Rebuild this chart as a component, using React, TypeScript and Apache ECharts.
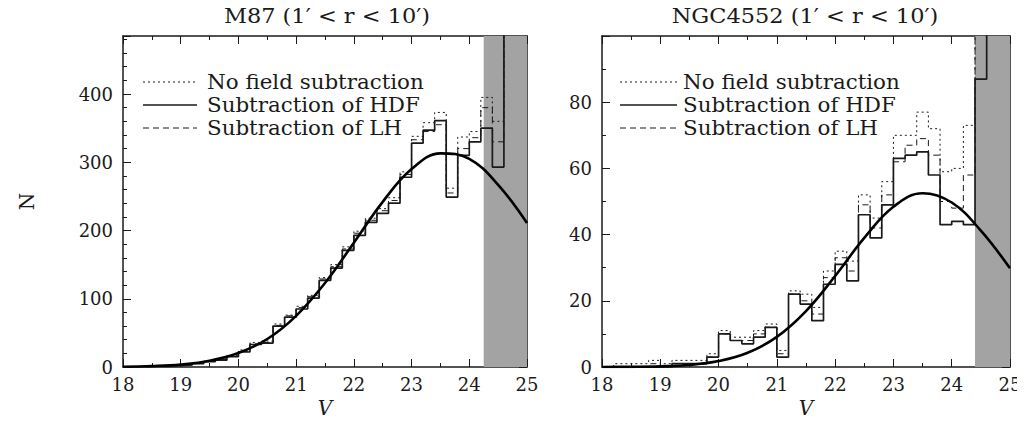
import { useEffect, useRef } from "react";
import * as echarts from "echarts";

// ---------- data ----------
const L_TITLE = "M87 (1′ < r < 10′)";
const R_TITLE = "NGC4552 (1′ < r < 10′)";
const LEGEND_LABELS = ["No field subtraction", "Subtraction of HDF", "Subtraction of LH"];

// left panel (M87): bin edges (0.2 mag bins)
const L_EDGES = [
  18.4, 18.6, 18.8, 19.0, 19.2, 19.4, 19.6, 19.8, 20.0, 20.2, 20.4, 20.6, 20.8, 21.0, 21.2, 21.4, 21.6,
  21.8, 22.0, 22.2, 22.4, 22.6, 22.8, 23.0, 23.2, 23.4, 23.6, 23.8, 24.0, 24.2, 24.4, 24.6, 24.8, 25.0,
];
const L_NOFIELD = [
  2, 2, 3, 4, 6, 9, 12, 17, 25, 36, 38, 63, 76, 89, 105, 131, 150, 176, 199, 218, 232, 248, 286, 338,
  358, 373, 262, 337, 345, 395, 360, 600, 600,
];
const L_HDF = [
  1, 1, 2, 3, 5, 8, 10, 15, 22, 33, 35, 60, 73, 85, 101, 127, 145, 171, 193, 212, 225, 240, 278, 328,
  347, 361, 249, 310, 330, 350, 293, 600, 600,
];
const L_LH = [
  1, 2, 2, 3, 5, 8, 11, 16, 23, 34, 36, 61, 75, 87, 103, 129, 147, 173, 196, 215, 229, 244, 282, 333,
  345, 355, 255, 320, 336, 380, 330, 600, 600,
];
const L_CURVE_V = [18.0, 18.5, 19.0, 19.5, 20.0, 20.5, 21.0, 21.5, 22.0, 22.5, 23.0, 23.5, 24.0, 24.5, 25.0];
const L_CURVE_N = [0.4, 1.4, 3.7, 9.2, 20.5, 41, 75, 123, 182, 242, 290, 313, 305, 267, 211];
const L_SHADE = [24.25, 25];

// right panel (NGC4552)
const R_EDGES = [
  18.2, 18.4, 18.6, 18.8, 19.0, 19.2, 19.4, 19.6, 19.8, 20.0, 20.2, 20.4, 20.6, 20.8, 21.0, 21.2, 21.4,
  21.6, 21.8, 22.0, 22.2, 22.4, 22.6, 22.8, 23.0, 23.2, 23.4, 23.6, 23.8, 24.0, 24.2, 24.4, 24.6, 24.8, 25.0,
];
const R_NOFIELD = [
  1, 1, 1, 2, 1, 2, 2, 2, 4, 11, 9, 9, 11, 13, 5, 23, 22, 18, 29, 35, 32, 52, 45, 56, 70, 70, 77, 72, 59,
  60, 73, 130, 150, 150,
];
const R_HDF = [
  0, 0, 0, 0, 0, 1, 1, 1, 3, 10, 8, 7, 9, 12, 3, 22, 19, 14, 25, 31, 26, 46, 39, 49, 63, 64, 65, 58, 43,
  44, 43, 87, 140, 140,
];
const R_LH = [
  0, 0, 0, 1, 0, 1, 1, 1, 3, 10, 8, 8, 10, 12, 4, 22, 20, 16, 27, 33, 29, 49, 42, 52, 62, 67, 69, 64, 50,
  48, 58, 110, 140, 140,
];
const R_CURVE_V = [18.0, 18.5, 19.0, 19.5, 20.0, 20.5, 21.0, 21.5, 22.0, 22.5, 23.0, 23.5, 24.0, 24.5, 25.0];
const R_CURVE_N = [0.0, 0.05, 0.2, 0.6, 1.8, 4.3, 9.1, 16.9, 27.5, 39, 48.4, 52.5, 49.7, 41.2, 29.8];
const R_SHADE = [24.4, 25];

const X_RANGE = [18, 25];
const L_Y_RANGE = [0, 485];
const R_Y_RANGE = [0, 100];

// ---------- styles ----------
const FONT = "DejaVu Serif";
const INK = "#1a1a1a";
const SHADE = "#a3a3a3";
const DOTTED = { color: INK, width: 1, type: [2, 3] as number[] };
const SOLID = { color: INK, width: 1.7, type: "solid" as const };
const DASHED = { color: INK, width: 1, type: [6, 4] as number[] };

function histo(edges: number[], vals: number[], ai: number, ls: any) {
  const data: number[][] = [[edges[0], 0]];
  vals.forEach((v, i) => data.push([edges[i], v]));
  data.push([edges[edges.length - 1], vals[vals.length - 1]]);
  return {
    type: "line",
    xAxisIndex: ai,
    yAxisIndex: ai,
    data,
    step: "end",
    symbol: "none",
    lineStyle: ls,
    silent: true,
    clip: true,
    z: 3,
  };
}

function xAxes(grid: number) {
  const base = {
    type: "value",
    gridIndex: grid,
    min: X_RANGE[0],
    max: X_RANGE[1],
    interval: 1,
    axisLine: { show: true, onZero: false, lineStyle: { color: INK, width: 1.5 } },
    axisTick: { show: true, inside: true, length: 8, lineStyle: { color: INK, width: 1 } },
    minorTick: { show: true, splitNumber: 2, length: 4, lineStyle: { color: INK, width: 1 } },
    splitLine: { show: false },
    minorSplitLine: { show: false },
  };
  return [
    {
      ...base,
      position: "bottom",
      axisLabel: { margin: 8, fontFamily: FONT, fontSize: 18, color: INK },
      name: "V",
      nameLocation: "middle",
      nameGap: 30,
      nameTextStyle: { fontFamily: FONT, fontSize: 20, fontStyle: "italic", color: INK },
    },
    { ...base, position: "top", axisLabel: { show: false } },
  ];
}

function yAxes(grid: number, range: number[], interval: number, split: number, lastLabel: number, name: string) {
  const base = {
    type: "value",
    gridIndex: grid,
    min: range[0],
    max: range[1],
    interval,
    axisLine: { show: true, onZero: false, lineStyle: { color: INK, width: 1.5 } },
    axisTick: { show: true, inside: true, length: 8, lineStyle: { color: INK, width: 1 } },
    minorTick: { show: true, splitNumber: split, length: 4, lineStyle: { color: INK, width: 1 } },
    splitLine: { show: false },
    minorSplitLine: { show: false },
  };
  return [
    {
      ...base,
      position: "left",
      axisLabel: {
        margin: 10,
        fontFamily: FONT,
        fontSize: 18,
        color: INK,
        formatter: (v: number) => (v % interval === 0 && v <= lastLabel ? String(v) : ""),
      },
      name,
      nameLocation: "middle",
      nameRotate: 90,
      nameGap: 86,
      nameTextStyle: { fontFamily: FONT, fontSize: 20, color: INK },
    },
    { ...base, position: "right", axisLabel: { show: false } },
  ];
}

function legend(x0: number, x1: number, tx: number, ys: number[]) {
  const styles = [
    { stroke: INK, lineWidth: 1, lineDash: [2, 3] },
    { stroke: INK, lineWidth: 1.7 },
    { stroke: INK, lineWidth: 1, lineDash: [6, 4] },
  ];
  const els: any[] = [];
  LEGEND_LABELS.forEach((lab, i) => {
    els.push({ type: "line", shape: { x1: x0, y1: ys[i], x2: x1, y2: ys[i] }, style: styles[i], z: 10 });
    els.push({
      type: "text",
      x: tx,
      y: ys[i],
      scaleX: 1.07,
      style: { text: lab, fontFamily: FONT, fontSize: 20, fill: INK, align: "left", verticalAlign: "middle" },
      z: 10,
    });
  });
  return els;
}

function shadeSeries(ai: number, range: number[]) {
  return {
    type: "line",
    xAxisIndex: ai,
    yAxisIndex: ai,
    data: [],
    symbol: "none",
    silent: true,
    z: 1,
    markArea: {
      silent: true,
      itemStyle: { color: SHADE, opacity: 1 },
      data: [[{ xAxis: range[0] }, { xAxis: range[1] }]],
    },
  };
}

export default function App() {
  const ref = useRef<HTMLDivElement>(null);
  useEffect(() => {
    if (!ref.current) return;
    const chart = echarts.init(ref.current, undefined, { renderer: "svg" });
    const curve = (vs: number[], ns: number[], ai: number) => ({
      type: "line",
      xAxisIndex: ai,
      yAxisIndex: ai,
      data: vs.map((v, i) => [v, ns[i]]),
      smooth: 0.4,
      symbol: "none",
      silent: true,
      lineStyle: { color: "#000", width: 2.6 },
      z: 4,
    });
    chart.setOption({
      animation: false,
      backgroundColor: "#fff",
      grid: [
        { left: 123, top: 36, width: 404, height: 331 },
        { left: 602, top: 36, width: 408, height: 331 },
      ],
      xAxis: [...xAxes(0), ...xAxes(1)],
      yAxis: [
        ...yAxes(0, L_Y_RANGE, 100, 5, 400, "N"),
        ...yAxes(1, R_Y_RANGE, 20, 2, 80, ""),
      ],
      series: [
        shadeSeries(0, L_SHADE),
        histo(L_EDGES, L_NOFIELD, 0, DOTTED),
        histo(L_EDGES, L_LH, 0, DASHED),
        histo(L_EDGES, L_HDF, 0, SOLID),
        curve(L_CURVE_V, L_CURVE_N, 0),
        shadeSeries(2, R_SHADE),
        histo(R_EDGES, R_NOFIELD, 2, DOTTED),
        histo(R_EDGES, R_LH, 2, DASHED),
        histo(R_EDGES, R_HDF, 2, SOLID),
        curve(R_CURVE_V, R_CURVE_N, 2),
      ],
      graphic: [
        {
          type: "text",
          x: 327,
          y: 16,
          scaleX: 1.07,
          style: { text: L_TITLE, fontFamily: FONT, fontSize: 21, fill: INK, align: "center", verticalAlign: "middle" },
        },
        {
          type: "text",
          x: 805,
          y: 16,
          scaleX: 1.07,
          style: { text: R_TITLE, fontFamily: FONT, fontSize: 21, fill: INK, align: "center", verticalAlign: "middle" },
        },
        ...legend(143, 197, 207, [82, 105, 128]),
        ...legend(620, 677, 683, [82, 105, 128]),
      ],
    });
    return () => chart.dispose();
  }, []);
  return <div ref={ref} style={{ width: 1025, height: 428, margin: -8 }} />;
}
